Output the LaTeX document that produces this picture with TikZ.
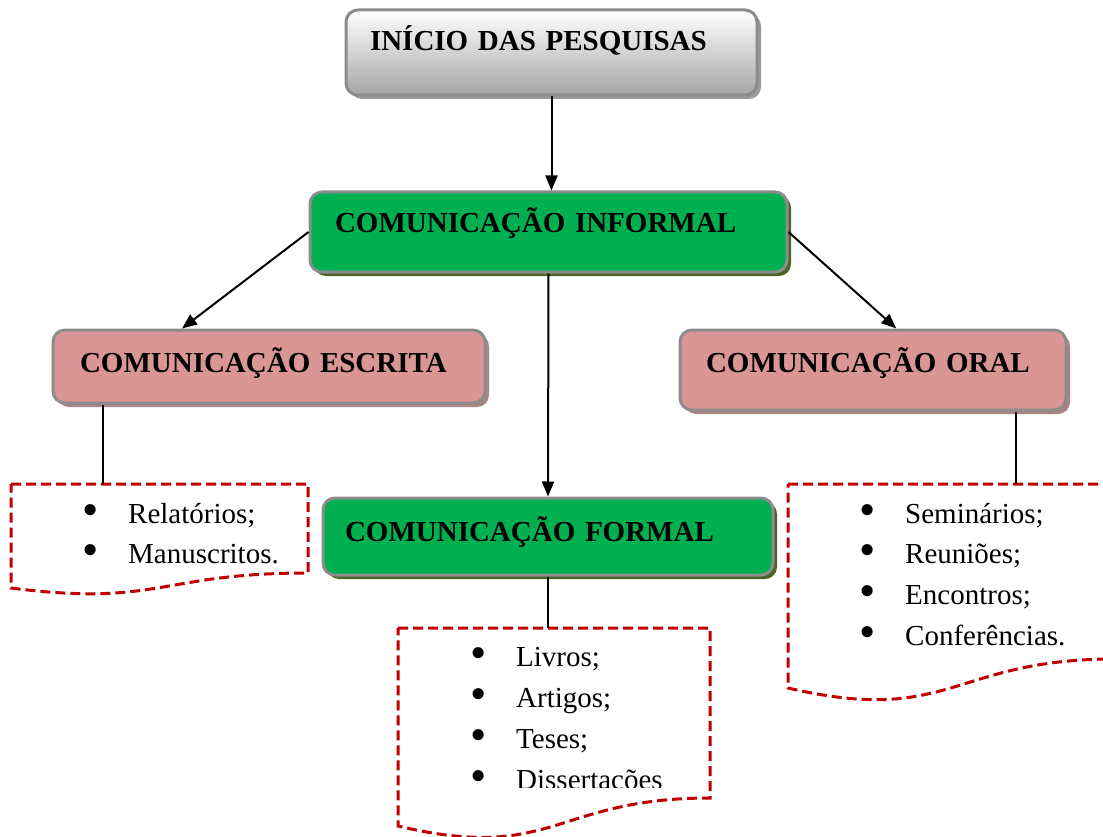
\documentclass[tikz,border=0pt]{standalone}
\usepackage{graphicx}
\usepackage{fontspec}
\setmainfont{Liberation Serif}
\usetikzlibrary{positioning, calc, arrows.meta, shadows}

\definecolor{boxgreen}{RGB}{0,176,80}
\definecolor{boxpink}{RGB}{217,150,148}
\definecolor{dashred}{RGB}{192,0,0}
\definecolor{greenshade}{RGB}{79,98,40}
\definecolor{pinkshade}{RGB}{170,130,130}

\newcommand{\bul}[1]{\makebox[46pt][l]{\raisebox{-2pt}{\scalebox{1.6}{\textbullet}}}#1}

\begin{document}
\begin{tikzpicture}[
    x=1pt, y=-1pt,
    box/.style       = {rectangle, draw=black!45, line width=3pt, rounded corners=12pt,
                        align=left, inner ysep=0pt, text height=20pt,
                        font=\fontsize{29}{35}\selectfont\bfseries},
    startbox/.style  = {box, top color=white, bottom color=black!35,
                        general shadow={fill=black!40, shadow xshift=4pt, shadow yshift=-4pt}},
    greenbox/.style  = {box, fill=boxgreen,
                        general shadow={fill=greenshade, shadow xshift=4pt, shadow yshift=-4pt}},
    pinkbox/.style   = {box, fill=boxpink,
                        general shadow={fill=pinkshade, shadow xshift=4pt, shadow yshift=-4pt}},
    itemlist/.style  = {anchor=base west, align=left, inner sep=0pt,
                        font=\fontsize{29}{40.7}\selectfont},
    conn/.style      = {line width=2pt, draw=black, -{Triangle[length=15pt, width=12pt]}},
    tie/.style       = {line width=2pt, draw=black},
    doc/.style       = {draw=dashred, line width=3pt, dash pattern=on 10pt off 5pt},
]

\clip (0,0) rectangle (1103,837);

%% ============================================================
%% BOXES
%% ============================================================

\node[startbox, minimum height=85pt, text width=363pt, inner xsep=24pt, text depth=23pt]
                  (start)    at (551.5, 52.5) {INÍCIO DAS PESQUISAS};
\node[greenbox, minimum height=80pt, text width=427pt, inner xsep=25pt, text depth=18pt]
                  (informal) at (548.5, 232)  {COMUNICAÇÃO INFORMAL};
\node[pinkbox, minimum height=73pt, text width=378pt, inner xsep=27pt, text depth=9pt]
                  (escrita)  at (269, 366.5)  {COMUNICAÇÃO ESCRITA};
\node[pinkbox, minimum height=80pt, text width=334pt, inner xsep=26pt, text depth=16pt]
                  (oral)     at (873, 370)    {COMUNICAÇÃO ORAL};
\node[greenbox, minimum height=77pt, text width=406pt, inner xsep=22pt, text depth=11pt]
                  (formal)   at (548, 536.5)  {COMUNICAÇÃO FORMAL};

%% ============================================================
%% DOCUMENT SHAPES (dashed)
%% ============================================================

\coordinate (escTop)  at (103, 484);
\coordinate (formTop) at (548, 628);
\coordinate (oralTop) at (1016, 484);

\draw[doc] (11,484) -- (308,484) -- (308,573)
    .. controls (159.5,573) and (159.5,607) .. (11,588) -- cycle;
\draw[doc] (398,628) -- (710,628) -- (710,798)
    .. controls (554,798) and (554,863) .. (398,826) -- cycle;
\draw[doc] (788,484) -- (1115,484) -- (1115,659)
    .. controls (951.5,659) and (951.5,726) .. (788,688) -- cycle;

%% lists (anchored at the baseline of their last line)
\node[itemlist] (escList)  at (82, 563.7)  {\bul{Relatórios;}\\ \bul{Manuscritos.}};
\node[itemlist] (oralList) at (859, 645.1) {\bul{Seminários;}\\ \bul{Reuniões;}\\
                                            \bul{Encontros;}\\ \bul{Conferências.}};
\begin{scope}
    \clip (380,600) rectangle (730,787);
    \node[itemlist] (formList) at (470, 789) {\bul{Livros;}\\ \bul{Artigos;}\\
                                              \bul{Teses;}\\ \bul{Dissertações}};
\end{scope}

%% ============================================================
%% CONNECTIONS
%% ============================================================

\draw[conn] (start.south) -- (start.south |- informal.north);
\draw[conn] (informal.west) -- ($(escrita.north west)!0.3!(escrita.north east)$);
\draw[conn] (informal.east) -- ($(oral.north west)!0.56!(oral.north east)$);
\draw[conn] (informal.south) -- (formal.north);

\draw[tie] (escTop |- escrita.south) -- (escTop);
\draw[tie] (oralTop |- oral.south) -- (oralTop);
\draw[tie] (formal.south) -- (formTop);

\end{tikzpicture}
\end{document}
